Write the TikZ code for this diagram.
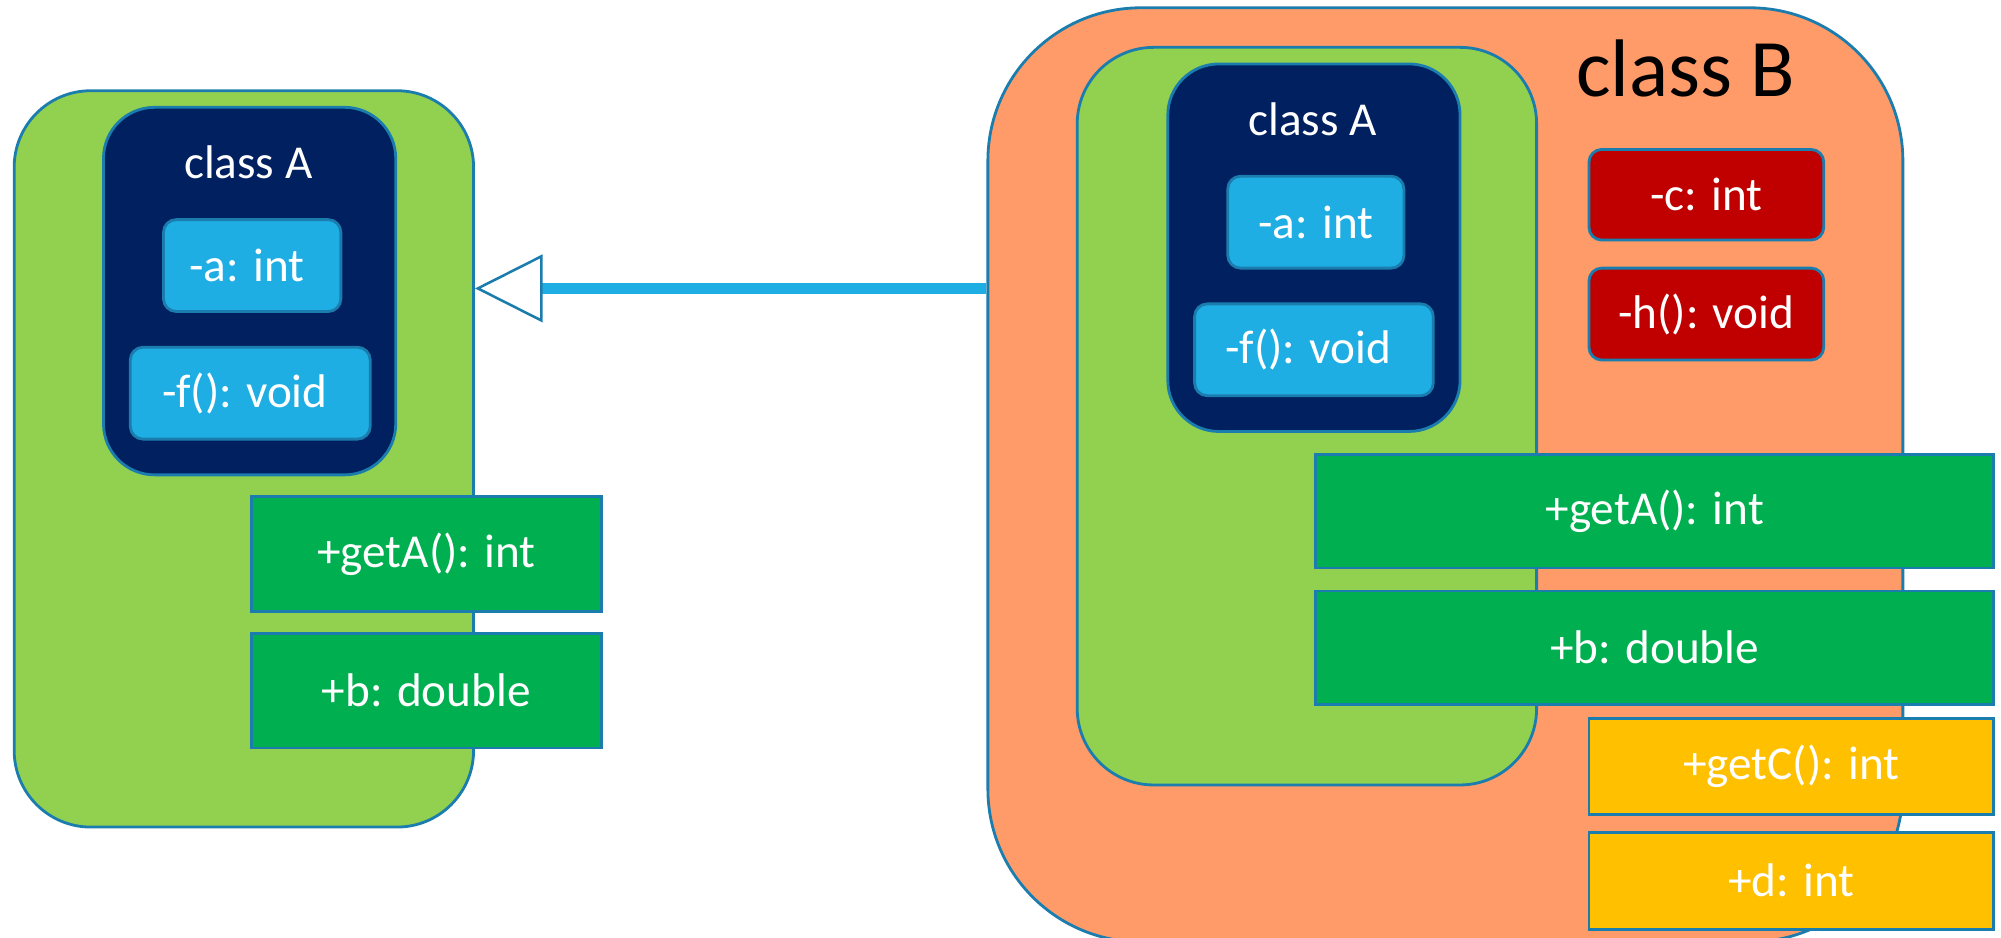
\documentclass[tikz,border=0pt]{standalone}
\usepackage{fontspec}
\setmainfont{Carlito}
\usetikzlibrary{arrows.meta}

\definecolor{edgeblue}{HTML}{1B7DAE}
\definecolor{leafgreen}{HTML}{92D050}
\definecolor{navyblue}{HTML}{002060}
\definecolor{skyblue}{HTML}{1FAEE3}
\definecolor{pubgreen}{HTML}{00B050}
\definecolor{peach}{HTML}{FF9B69}
\definecolor{darkred}{HTML}{C00000}
\definecolor{amber}{HTML}{FFC000}

\tikzset{
  box/.style={rectangle,draw=edgeblue,line width=2.2pt,inner sep=0pt,anchor=north west},
  shell/.style={box,fill=leafgreen,rounded corners=60pt},
  core/.style={box,fill=navyblue,rounded corners=40pt},
  member/.style={box,text=white,font=\fontsize{37}{40}\selectfont},
  private/.style={member,fill=skyblue,rounded corners=10pt},
  hidden/.style={member,fill=darkred,rounded corners=10pt},
  public/.style={member,fill=pubgreen},
  added/.style={member,fill=amber},
  title/.style={text=white,anchor=base,inner sep=0pt,font=\fontsize{37}{40}\selectfont},
  inherit/.style={draw=skyblue,line width=8.5pt,
    -{Triangle[length=53pt,width=53pt,fill=white,color=edgeblue,line width=2pt 0 1]}}
}

\begin{document}
\begin{tikzpicture}[x=1pt,y=-1pt]
\useasboundingbox (0,0) rectangle (1568,735);

\node[shell,minimum width=360pt,minimum height=577pt] (clsA) at (10,70) {};
\node[core,minimum width=229pt,minimum height=288pt] (coreA) at (80,83) {};
\node[title] (titleA) at (194.5,140) {class A};
\node[private,minimum width=139pt,minimum height=72pt] (aA) at (127,171) {-a: int~~};
\node[private,minimum width=188pt,minimum height=72pt] (fA) at (101,271) {-f(): void~~};
\node[public,minimum width=274pt,minimum height=90pt] (getA) at (196,388) {+getA(): int};
\node[public,minimum width=274pt,minimum height=90pt] (bA) at (196,495) {+b: double};

\node[box,fill=peach,rounded corners=120pt,minimum width=717pt,minimum height=732pt] (clsB) at (773,5) {};
\node[shell,minimum width=360pt,minimum height=578pt] (baseB) at (843,36) {};
\node[core,minimum width=229pt,minimum height=288pt] (coreB) at (914,49) {};
\node[title] (titleAB) at (1028.5,106) {class A};
\node[title,text=black,font=\fontsize{64}{70}\selectfont] (titleB) at (1321,76) {class B};
\node[private,minimum width=138pt,minimum height=72pt] (aB) at (961,137) {-a: int~};
\node[private,minimum width=187pt,minimum height=72pt] (fB) at (935,237) {-f(): void~~};
\node[hidden,minimum width=184pt,minimum height=71pt] (cB) at (1244,116) {-c: int};
\node[hidden,minimum width=184pt,minimum height=72pt] (hB) at (1244,209) {-h(): void};
\node[public,minimum width=531pt,minimum height=89pt] (getAB) at (1030,355) {+getA(): int};
\node[public,minimum width=531pt,minimum height=89pt] (bB) at (1030,462) {+b: double};
\node[added,minimum width=317pt,minimum height=75pt] (getC) at (1244,562) {+getC(): int};
\node[added,minimum width=317pt,minimum height=76pt] (dB) at (1244,651) {+d: int};

\draw[inherit] (clsB.west |- 0,226) -- (clsA.east |- 0,226);
\end{tikzpicture}
\end{document}
